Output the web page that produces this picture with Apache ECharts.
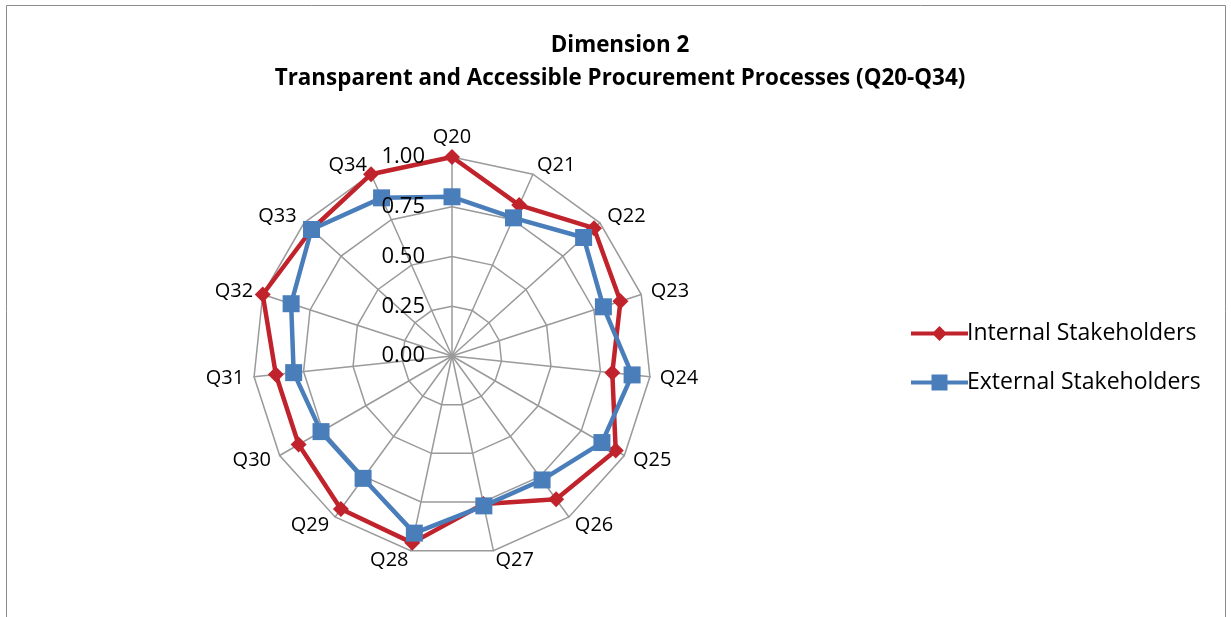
<!DOCTYPE html>
<html>
<head>
<meta charset="utf-8">
<script src="https://cdn.jsdelivr.net/npm/echarts@6/dist/echarts.min.js"></script>
<style>html,body{margin:0;padding:0;background:#fff}#c{width:1231px;height:617px}</style>
</head>
<body>
<div id="c"></div>
<script>
const categories = ['Q20','Q21','Q22','Q23','Q24','Q25','Q26','Q27','Q28','Q29','Q30','Q31','Q32','Q33','Q34'];
const internalValues = [1.00, 0.83, 0.96, 0.89, 0.81, 0.95, 0.89, 0.76, 0.96, 0.95, 0.89, 0.89, 1.00, 0.95, 1.00];
const externalValues = [0.80, 0.76, 0.89, 0.80, 0.91, 0.87, 0.77, 0.77, 0.91, 0.76, 0.76, 0.80, 0.85, 0.95, 0.87];
const tickValues = [0, 0.25, 0.5, 0.75, 1.0];
const titleLines = ['Dimension 2', 'Transparent and Accessible Procurement Processes (Q20-Q34)'];

// ECharts radar runs counter-clockwise; reorder so that categories run clockwise from the top
const order = [0].concat(categories.map((_, i) => i).slice(1).reverse());
const cw = arr => order.map(i => arr[i]);

const FONT = '"Open Sans", sans-serif';
const RED = '#C0232B', BLUE = '#4A7EBB';
const redIcon = 'path://M0,6 L57,6 L57,10 L0,10 Z M28.5,0.5 L36,8 L28.5,15.5 L21,8 Z';
const blueIcon = 'path://M0,6 L57,6 L57,10 L0,10 Z M20.5,0 L36.5,0 L36.5,16 L20.5,16 Z';
const chart = echarts.init(document.getElementById('c'));
const CENTER = [452, 356];
const RADIUS = 199;
chart.setOption({
  animation: false,
  title: {
    text: titleLines.join('\n'),
    left: 615, top: 24, textAlign: 'center',
    textStyle: {fontFamily: FONT, fontWeight: 'bold', fontSize: 22.4, color: '#000', lineHeight: 33}
  },
  graphic: [{type: 'rect', shape: {x: 6.5, y: 5.5, width: 1219, height: 640}, style: {fill: 'none', stroke: '#8c8c8c', lineWidth: 1}, silent: true, z: -10}],
  legend: {
    orient: 'vertical', left: 906, top: 317, itemGap: 26, itemWidth: 57, itemHeight: 16,
    textStyle: {fontFamily: FONT, fontSize: 23, color: '#000', padding: [0,0,0,-6]},
    data: [{name: 'Internal Stakeholders', icon: redIcon, itemStyle: {color: RED}},
           {name: 'External Stakeholders', icon: blueIcon, itemStyle: {color: BLUE}}]
  },
  polar: {center: CENTER, radius: RADIUS},
  angleAxis: {show: false, startAngle: 90, min: 0, max: 360},
  radiusAxis: {
    min: tickValues[0], max: tickValues[tickValues.length-1], interval: 0.25,
    axisLine: {show: false}, axisTick: {show: false}, splitLine: {show: false},
    axisLabel: {fontFamily: FONT, fontSize: 22, color: '#000', margin: 27, formatter: v => v.toFixed(2)},
    z: 10
  },
  radar: {
    center: CENTER, radius: RADIUS, startAngle: 90, splitNumber: 4, shape: 'polygon',
    indicator: cw(categories).map(c => ({name: c, min: 0, max: 1})),
    axisName: {fontFamily: FONT, fontSize: 20, color: '#000'},
    nameGap: 10,
    axisLine: {lineStyle: {color: '#9a9a9a', width: 1.5}},
    splitLine: {lineStyle: {color: '#9a9a9a', width: 1.5}},
    splitArea: {show: false}
  },
  series: [{
    type: 'radar',
    z: 3,
    data: [
      {name: 'Internal Stakeholders', value: cw(internalValues), symbol: 'diamond', symbolSize: 16,
       lineStyle: {color: RED, width: 4.5}, itemStyle: {color: RED}},
      {name: 'External Stakeholders', value: cw(externalValues), symbol: 'rect', symbolSize: 17,
       lineStyle: {color: BLUE, width: 4.5}, itemStyle: {color: BLUE}}
    ]
  }]
});
</script>
</body>
</html>
